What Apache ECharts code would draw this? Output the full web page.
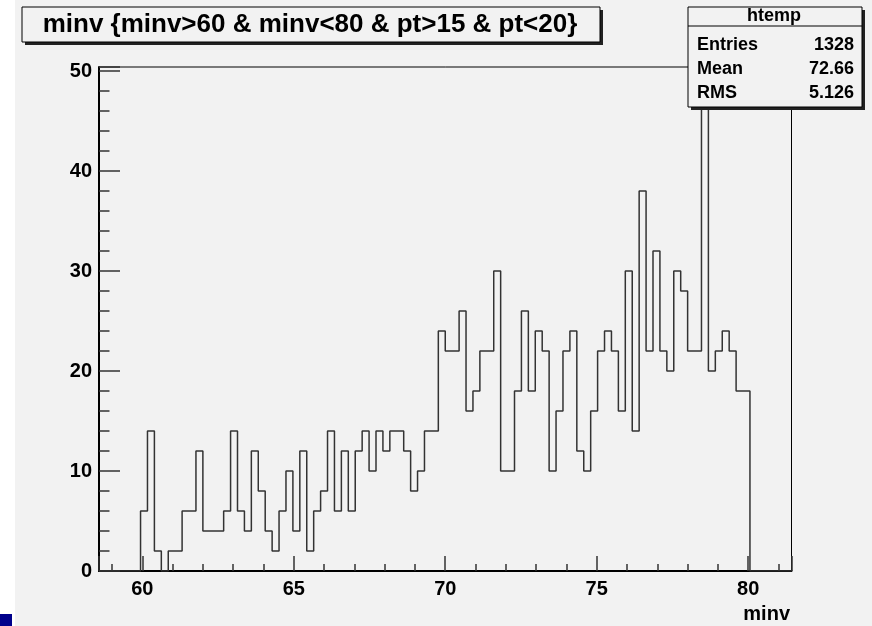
<!DOCTYPE html>
<html>
<head>
<meta charset="utf-8">
<title>minv</title>
<script src="https://cdn.jsdelivr.net/npm/echarts@6/dist/echarts.min.js"></script>
<style>
    html, body { margin: 0; padding: 0; background: #fff; }
    #chart { width: 872px; height: 626px; }
</style>
</head>
<body>
<div id="chart"></div>
<script>
// binning of htemp
var xMin = 58.57;
var xMax = 81.43;
var nBins = 100;

// bin contents, 10 bins per row
var counts = [
    0, 0, 0, 0, 0, 0, 6, 14, 2, 0,
    2, 2, 6, 6, 12, 4, 4, 4, 6, 14,
    6, 4, 12, 8, 4, 2, 6, 10, 4, 12,
    2, 6, 8, 14, 6, 12, 6, 12, 14, 10,
    14, 12, 14, 14, 12, 8, 10, 14, 14, 24,
    22, 22, 26, 16, 18, 22, 22, 30, 10, 10,
    18, 26, 18, 24, 22, 10, 16, 22, 24, 12,
    10, 16, 22, 24, 22, 16, 30, 14, 38, 22,
    32, 22, 20, 30, 28, 22, 22, 48, 20, 22,
    24, 22, 18, 18, 0, 0, 0, 0, 0, 0
];

// y axis range
var yMax = 50.4;
var yStep = 10;

// texts
var titleText = 'minv {minv>60 & minv<80 & pt>15 & pt<20}';
var xTitle = 'minv';
var statName = 'htemp';
var statLabels = ['Entries', 'Mean', 'RMS'];
var statValues = ['1328', '72.66', '5.126'];

var font = 'Liberation Sans';
var bg = '#f2f2f2';

// outline points of the histogram, one per lower bin edge
var binW = (xMax - xMin) / nBins;
var outline = counts.map(function (c, i) {
    return [xMin + i * binW, c];
});
outline.push([xMax, 0]);

// stats box rows
var statGraphics = [];
statLabels.forEach(function (lab, i) {
    var y = 45 + i * 24;
    statGraphics.push({
        type: 'text', z: 101, x: 697, y: y,
        style: { text: lab, font: 'bold 18px ' + font, fill: '#000', align: 'left', verticalAlign: 'middle' }
    });
    statGraphics.push({
        type: 'text', z: 101, x: 854, y: y,
        style: { text: statValues[i], font: 'bold 18px ' + font, fill: '#000', align: 'right', verticalAlign: 'middle' }
    });
});

var chart = echarts.init(document.getElementById('chart'), null, { renderer: 'canvas' });

var option = {
    backgroundColor: bg,
    animation: false,
    grid: {
        left: 99,
        top: 67,
        width: 692.5,
        height: 504,
        show: true,
        borderColor: '#000',
        borderWidth: 1,
        backgroundColor: 'transparent'
    },
    xAxis: {
        type: 'value',
        min: xMin,
        max: xMax,
        splitNumber: 5,
        axisLine: { onZero: false, lineStyle: { color: '#000', width: 2 } },
        axisTick: { inside: true, length: 15, lineStyle: { color: '#333', width: 1.5 } },
        minorTick: { show: true, splitNumber: 5, length: 7, lineStyle: { color: '#333', width: 1.5 } },
        splitLine: { show: false },
        axisLabel: {
            showMinLabel: false,
            showMaxLabel: false,
            margin: 8,
            color: '#000',
            fontFamily: font,
            fontWeight: 'bold',
            fontSize: 20
        }
    },
    yAxis: {
        type: 'value',
        min: 0,
        max: yMax,
        interval: yStep,
        axisLine: { onZero: false, lineStyle: { color: '#000', width: 2 } },
        axisTick: { inside: true, length: 21, lineStyle: { color: '#333', width: 1.5 } },
        minorTick: { show: true, splitNumber: 5, length: 10.5, lineStyle: { color: '#333', width: 1.5 } },
        splitLine: { show: false },
        axisLabel: {
            showMaxLabel: false,
            margin: 7,
            color: '#000',
            fontFamily: font,
            fontWeight: 'bold',
            fontSize: 20
        }
    },
    series: [{
        type: 'line',
        step: 'end',
        data: outline,
        symbol: 'none',
        z: 3,
        lineStyle: { color: '#333', width: 1.5 }
    }],
    graphic: [
        // white strip on the left
        { type: 'rect', z: 0, shape: { x: 0, y: 0, width: 15, height: 626 }, style: { fill: '#fff' } },
        // blue marker bottom left
        { type: 'rect', z: 0, shape: { x: 0, y: 614, width: 12, height: 12 }, style: { fill: '#00008b' } },
        // title pave
        { type: 'rect', z: 100, shape: { x: 25, y: 10, width: 578, height: 35 }, style: { fill: '#222' } },
        { type: 'rect', z: 100, shape: { x: 22, y: 7, width: 578, height: 35 }, style: { fill: bg, stroke: '#000', lineWidth: 1 } },
        {
            type: 'text', z: 101, x: 310, y: 25,
            style: { text: titleText, font: 'bold 26px ' + font, fill: '#000', align: 'center', verticalAlign: 'middle' }
        },
        // stats pave
        { type: 'rect', z: 100, shape: { x: 691, y: 10, width: 174, height: 100 }, style: { fill: '#222' } },
        { type: 'rect', z: 100, shape: { x: 688, y: 7, width: 174, height: 100 }, style: { fill: bg, stroke: '#000', lineWidth: 1 } },
        { type: 'line', z: 101, shape: { x1: 688, y1: 26, x2: 862, y2: 26 }, style: { stroke: '#000', lineWidth: 1 } },
        {
            type: 'text', z: 101, x: 774, y: 16,
            style: { text: statName, font: 'bold 18px ' + font, fill: '#000', align: 'center', verticalAlign: 'middle' }
        },
        // axis title
        {
            type: 'text', z: 101, x: 790, y: 614,
            style: { text: xTitle, font: 'bold 20px ' + font, fill: '#000', align: 'right', verticalAlign: 'middle' }
        }
    ].concat(statGraphics)
};

chart.setOption(option);
</script>
</body>
</html>
